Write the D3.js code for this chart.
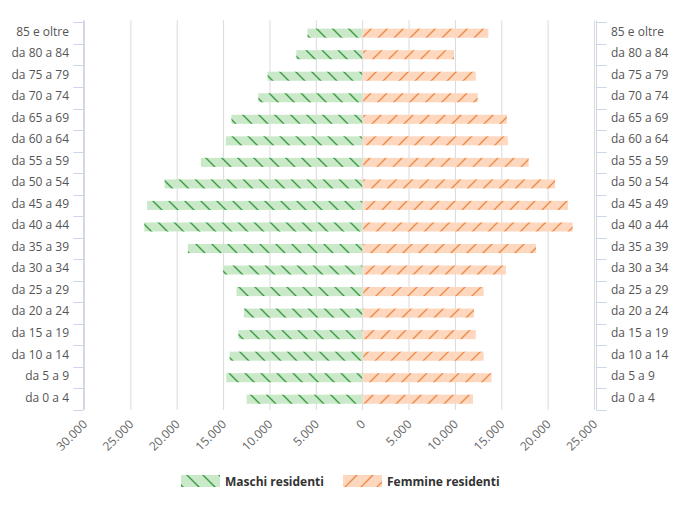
<!DOCTYPE html>
<html>
<head>
<meta charset="utf-8">
<script src="https://cdn.jsdelivr.net/npm/d3@7"></script>
<style>
  html, body { margin: 0; padding: 0; background: #fff; }
  svg { display: block; font-family: "Open Sans", "DejaVu Sans", sans-serif; }
</style>
</head>
<body>
<svg id="chart" width="680" height="508"></svg>
<script>
const categories = ["85 e oltre","da 80 a 84","da 75 a 79","da 70 a 74","da 65 a 69","da 60 a 64",
  "da 55 a 59","da 50 a 54","da 45 a 49","da 40 a 44","da 35 a 39","da 30 a 34",
  "da 25 a 29","da 20 a 24","da 15 a 19","da 10 a 14","da 5 a 9","da 0 a 4"];
const maschi  = [5900, 7100, 10200, 11200, 14100, 14700, 17400, 21300, 23200, 23500, 18800, 15000, 13550, 12750, 13350, 14300, 14650, 12450];
const femmine = [13600, 9900, 12250, 12450, 15600, 15700, 17950, 20800, 22200, 22700, 18750, 15500, 13100, 12050, 12250, 13100, 13950, 11950];
const xTicks = [-30000, -25000, -20000, -15000, -10000, -5000, 0, 5000, 10000, 15000, 20000, 25000];
const seriesNames = ["Maschi residenti", "Femmine residenti"];

(function () {
const svg = d3.select("#chart");
const x = d3.scaleLinear().domain([-30000, 25000]).range([84, 594]);
const y = d3.scaleBand().domain(categories).range([22.4, 410]).paddingInner(0.58).paddingOuter(0.29);
const step = y.step();
const yTop = y.range()[0], yBottom = y.range()[1];

// patterns
const defs = svg.append("defs");
const pm = defs.append("pattern").attr("id", "pm").attr("patternUnits", "userSpaceOnUse")
  .attr("width", 16).attr("height", 16);
pm.append("rect").attr("width", 16).attr("height", 16).attr("fill", "#c9e9c9");
pm.append("path").attr("d", "M0 0 L16 16 M-2 14 L2 18 M14 -2 L18 2")
  .attr("stroke", "#3f9a47").attr("stroke-width", 1.4);
const pf = defs.append("pattern").attr("id", "pf").attr("patternUnits", "userSpaceOnUse")
  .attr("width", 16).attr("height", 16);
pf.append("rect").attr("width", 16).attr("height", 16).attr("fill", "#fdd7be");
pf.append("path").attr("d", "M0 16 L16 0 M-2 2 L2 -2 M14 18 L18 14")
  .attr("stroke", "#ee8a4a").attr("stroke-width", 1.4);

// gridlines
svg.append("g").selectAll("line").data(xTicks).join("line")
  .attr("x1", d => x(d) + 0.5).attr("x2", d => x(d) + 0.5)
  .attr("y1", yTop - 2).attr("y2", yBottom)
  .attr("stroke", "#dadada").attr("stroke-width", 1);

// bars
const rows = categories.map((c, i) => ({c, m: maschi[i], f: femmine[i]}));
svg.append("g").selectAll("rect").data(rows).join("rect")
  .attr("x", d => x(-d.m)).attr("width", d => x(0) - x(-d.m))
  .attr("y", d => y(d.c)).attr("height", y.bandwidth())
  .attr("fill", "url(#pm)");
svg.append("g").selectAll("rect").data(rows).join("rect")
  .attr("x", d => x(0) + 1).attr("width", d => x(d.f) - x(0) - 1)
  .attr("y", d => y(d.c)).attr("height", y.bandwidth())
  .attr("fill", "url(#pf)");

// category axes
const axisColor = "#ccd6eb";
const leftX = 83.5, rightX = 596.5;
const bounds = d3.range(categories.length + 1).map(i => yTop + i * step);
const gl = svg.append("g");
gl.append("line").attr("x1", leftX).attr("x2", leftX).attr("y1", yTop - 2).attr("y2", yBottom).attr("stroke", axisColor);
gl.selectAll("line.t").data(bounds).join("line").attr("class", "t")
  .attr("x1", leftX - 10).attr("x2", leftX).attr("y1", d => Math.round(d) + 0.5).attr("y2", d => Math.round(d) + 0.5)
  .attr("stroke", axisColor);
gl.selectAll("text").data(categories).join("text")
  .attr("x", 69).attr("y", d => y(d) + y.bandwidth() / 2 - 1.5).attr("dy", "0.32em")
  .attr("text-anchor", "end").attr("font-size", 12).attr("fill", "#555").text(d => d);

const gr = svg.append("g");
gr.append("line").attr("x1", rightX).attr("x2", rightX).attr("y1", yTop - 2).attr("y2", yBottom).attr("stroke", axisColor);
gr.selectAll("line.t").data(bounds).join("line").attr("class", "t")
  .attr("x1", rightX).attr("x2", rightX + 10).attr("y1", d => Math.round(d) + 0.5).attr("y2", d => Math.round(d) + 0.5)
  .attr("stroke", axisColor);
gr.selectAll("text").data(categories).join("text")
  .attr("x", 611).attr("y", d => y(d) + y.bandwidth() / 2 - 1.5).attr("dy", "0.32em")
  .attr("text-anchor", "start").attr("font-size", 12).attr("fill", "#555").text(d => d);

// x axis labels
const fmt = v => d3.format(",")(Math.abs(v)).replace(/,/g, ".");
svg.append("g").selectAll("text").data(xTicks).join("text")
  .attr("transform", d => `translate(${x(d) + 4},${425}) rotate(-45)`)
  .attr("text-anchor", "end").attr("font-size", 12).attr("fill", "#666")
  .text(d => fmt(d));

// legend
const legend = [
  {name: seriesNames[0], fill: "url(#pm)", x: 181},
  {name: seriesNames[1], fill: "url(#pf)", x: 343}
];
const lg = svg.append("g").selectAll("g").data(legend).join("g");
lg.append("rect").attr("x", d => d.x).attr("y", 475).attr("width", 39).attr("height", 12).attr("fill", d => d.fill);
lg.append("text").attr("x", d => d.x + 44).attr("y", 485.5)
  .attr("font-size", 12).attr("font-weight", "bold").attr("fill", "#333").text(d => d.name);
})();
</script>
</body>
</html>
